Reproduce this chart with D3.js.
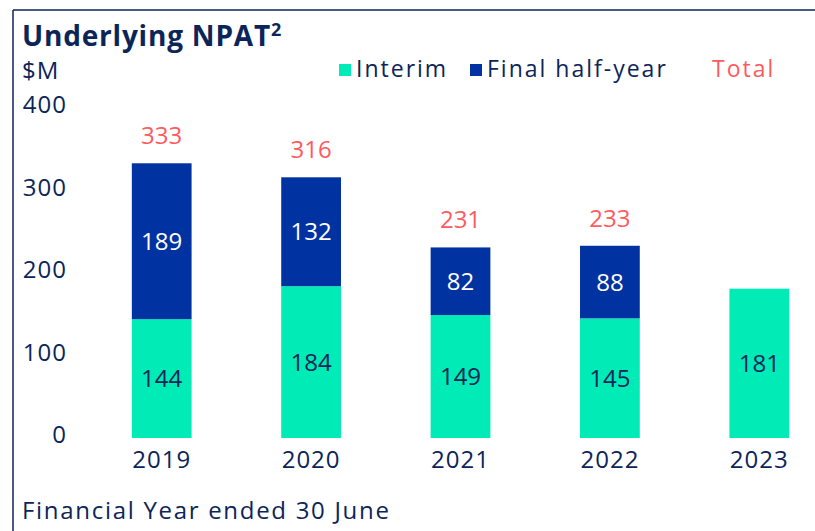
<!DOCTYPE html>
<html>
<head>
<meta charset="utf-8">
<script src="https://cdn.jsdelivr.net/npm/d3@7"></script>
<style>
  body { margin: 0; background: #fff; }
  svg { display: block; font-family: 'Open Sans', sans-serif; }
</style>
</head>
<body>
<svg id="chart" width="815" height="531"></svg>
<script>
'use strict';

var years = ['2019', '2020', '2021', '2022', '2023'];
var interim = [144, 184, 149, 145, 181];
var finalHalf = [189, 132, 82, 88, null];
var totals = [333, 316, 231, 233, null];
var yTicks = [0, 100, 200, 300, 400];

var navy = '#0c2559';
var teal = '#00ebb6';
var blue = '#0033a1';
var coral = '#ff5a5f';
var fs = 24;

var svg = d3.select('#chart');

// frame (top + left rule)
svg.append('line').attr('x1', 13).attr('x2', 815).attr('y1', 10).attr('y2', 10)
	.attr('stroke', navy).attr('stroke-width', 1.5);
svg.append('line').attr('x1', 13).attr('x2', 13).attr('y1', 10).attr('y2', 531)
	.attr('stroke', navy).attr('stroke-width', 1.5);

var title = svg.append('text').attr('x', 22).attr('y', 46)
	.attr('fill', navy).attr('font-size', 28).attr('font-weight', 'bold')
	.attr('letter-spacing', 0.8)
	.text('Underlying NPAT');
title.append('tspan').attr('dy', -10).attr('font-size', 18).text('2');

svg.append('text').attr('x', 22).attr('y', 79)
	.attr('fill', navy).attr('font-size', fs).attr('letter-spacing', 1).text('$M');

// legend
var legend = [
	{label: 'Interim', color: teal, x: 339},
	{label: 'Final half-year', color: blue, x: 470}
];
legend.forEach(function(d) {
	svg.append('rect').attr('x', d.x).attr('y', 64).attr('width', 12).attr('height', 12).attr('fill', d.color);
	svg.append('text').attr('x', d.x + 17).attr('y', 77)
		.attr('fill', navy).attr('font-size', 23).attr('letter-spacing', 2).text(d.label);
});
svg.append('text').attr('x', 712).attr('y', 77)
	.attr('fill', coral).attr('font-size', 23).attr('letter-spacing', 2).text('Total');

var x = d3.scaleBand().domain(years).range([87, 834]).paddingInner(0.6).paddingOuter(0.3);
var y = d3.scaleLinear().domain([0, 400]).range([438, 108]);

// y axis labels
var yAxis = svg.append('g').attr('transform', 'translate(67,0)')
	.call(d3.axisLeft(y).tickValues(yTicks).tickSize(0).tickPadding(0));
yAxis.select('.domain').remove();
yAxis.selectAll('text').attr('fill', navy).attr('font-size', fs)
	.attr('font-family', "'Open Sans', sans-serif").attr('letter-spacing', 1).attr('dy', '0.2em');

// x axis labels
var xAxis = svg.append('g').attr('transform', 'translate(0,' + y(0) + ')')
	.call(d3.axisBottom(x).tickSize(0).tickPadding(13));
xAxis.select('.domain').remove();
xAxis.selectAll('text').attr('fill', navy).attr('font-size', fs)
	.attr('font-family', "'Open Sans', sans-serif").attr('letter-spacing', 1).attr('dy', '0.7em');

var data = years.map(function(yr, i) {
	return {year: yr, interim: interim[i], final: finalHalf[i], total: totals[i]};
});

var bars = svg.append('g');
bars.selectAll('rect.interim').data(data).enter().append('rect')
	.attr('class', 'interim')
	.attr('x', function(d) { return x(d.year); })
	.attr('width', x.bandwidth())
	.attr('y', function(d) { return y(d.interim); })
	.attr('height', function(d) { return y(0) - y(d.interim); })
	.attr('fill', teal);

var withFinal = data.filter(function(d) { return d.final !== null; });
bars.selectAll('rect.final').data(withFinal).enter().append('rect')
	.attr('class', 'final')
	.attr('x', function(d) { return x(d.year); })
	.attr('width', x.bandwidth())
	.attr('y', function(d) { return y(d.interim + d.final); })
	.attr('height', function(d) { return y(d.interim) - y(d.interim + d.final); })
	.attr('fill', blue);

var labels = svg.append('g').attr('text-anchor', 'middle').attr('font-size', fs);
labels.selectAll('text.iv').data(data).enter().append('text')
	.attr('x', function(d) { return x(d.year) + x.bandwidth() / 2; })
	.attr('y', function(d) { return (y(0) + y(d.interim)) / 2; })
	.attr('dy', '0.36em').attr('fill', navy)
	.text(function(d) { return d.interim; });
labels.selectAll('text.fv').data(withFinal).enter().append('text')
	.attr('x', function(d) { return x(d.year) + x.bandwidth() / 2; })
	.attr('y', function(d) { return (y(d.interim) + y(d.interim + d.final)) / 2; })
	.attr('dy', '0.36em').attr('fill', '#fff')
	.text(function(d) { return d.final; });
labels.selectAll('text.tv').data(withFinal).enter().append('text')
	.attr('x', function(d) { return x(d.year) + x.bandwidth() / 2; })
	.attr('y', function(d) { return y(d.total) - 19; })
	.attr('fill', coral)
	.text(function(d) { return d.total; });

svg.append('text').attr('x', 22).attr('y', 519)
	.attr('fill', navy).attr('font-size', fs).attr('letter-spacing', 1.7)
	.text('Financial Year ended 30 June');
</script>
</body>
</html>
